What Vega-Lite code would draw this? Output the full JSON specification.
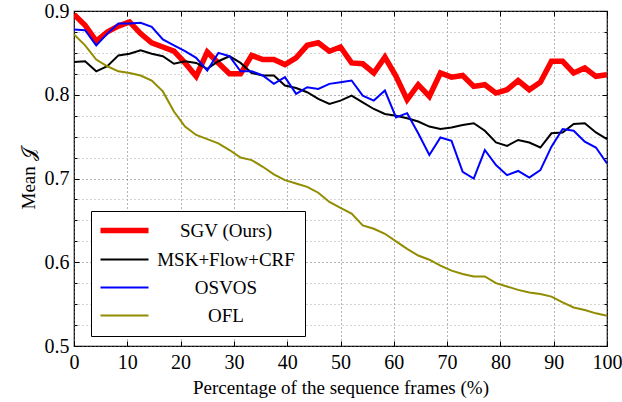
{
  "$schema": "https://vega.github.io/schema/vega-lite/v6.json",
  "width": 533,
  "height": 335,
  "autosize": {"type": "none"},
  "padding": {"left": 74, "top": 11, "right": 15, "bottom": 56},
  "background": "white",
  "config": {
    "font": "Liberation Serif",
    "view": {"stroke": "black", "strokeWidth": 1.2},
    "axis": {"labelFont": "Liberation Serif", "titleFont": "Liberation Serif", "labelFontSize": 20, "titleFontSize": 19, "titleFontWeight": "normal", "labelColor": "black", "titleColor": "black", "domainColor": "black", "tickColor": "black"},
    "legend": {"labelFont": "Liberation Serif", "labelFontSize": 19, "labelColor": "black"}
  },
  "data": {"values": [
    {"pct":0,"J":0.896,"method":"SGV (Ours)"},{"pct":2.08,"J":0.883,"method":"SGV (Ours)"},{"pct":4.17,"J":0.864,"method":"SGV (Ours)"},{"pct":6.25,"J":0.875,"method":"SGV (Ours)"},{"pct":8.33,"J":0.882,"method":"SGV (Ours)"},{"pct":10.42,"J":0.887,"method":"SGV (Ours)"},{"pct":12.5,"J":0.873,"method":"SGV (Ours)"},{"pct":14.58,"J":0.862,"method":"SGV (Ours)"},{"pct":16.67,"J":0.857,"method":"SGV (Ours)"},{"pct":18.75,"J":0.852,"method":"SGV (Ours)"},{"pct":20.83,"J":0.838,"method":"SGV (Ours)"},{"pct":22.92,"J":0.822,"method":"SGV (Ours)"},{"pct":25,"J":0.851,"method":"SGV (Ours)"},{"pct":27.08,"J":0.838,"method":"SGV (Ours)"},{"pct":29.17,"J":0.825,"method":"SGV (Ours)"},{"pct":31.25,"J":0.825,"method":"SGV (Ours)"},{"pct":33.33,"J":0.847,"method":"SGV (Ours)"},{"pct":35.42,"J":0.842,"method":"SGV (Ours)"},{"pct":37.5,"J":0.842,"method":"SGV (Ours)"},{"pct":39.58,"J":0.836,"method":"SGV (Ours)"},{"pct":41.67,"J":0.844,"method":"SGV (Ours)"},{"pct":43.75,"J":0.859,"method":"SGV (Ours)"},{"pct":45.83,"J":0.862,"method":"SGV (Ours)"},{"pct":47.92,"J":0.852,"method":"SGV (Ours)"},{"pct":50,"J":0.857,"method":"SGV (Ours)"},{"pct":52.08,"J":0.838,"method":"SGV (Ours)"},{"pct":54.17,"J":0.837,"method":"SGV (Ours)"},{"pct":56.25,"J":0.826,"method":"SGV (Ours)"},{"pct":58.33,"J":0.845,"method":"SGV (Ours)"},{"pct":60.42,"J":0.822,"method":"SGV (Ours)"},{"pct":62.5,"J":0.794,"method":"SGV (Ours)"},{"pct":64.58,"J":0.812,"method":"SGV (Ours)"},{"pct":66.67,"J":0.798,"method":"SGV (Ours)"},{"pct":68.75,"J":0.826,"method":"SGV (Ours)"},{"pct":70.83,"J":0.821,"method":"SGV (Ours)"},{"pct":72.92,"J":0.823,"method":"SGV (Ours)"},{"pct":75,"J":0.81,"method":"SGV (Ours)"},{"pct":77.08,"J":0.812,"method":"SGV (Ours)"},{"pct":79.17,"J":0.802,"method":"SGV (Ours)"},{"pct":81.25,"J":0.806,"method":"SGV (Ours)"},{"pct":83.33,"J":0.817,"method":"SGV (Ours)"},{"pct":85.42,"J":0.806,"method":"SGV (Ours)"},{"pct":87.5,"J":0.815,"method":"SGV (Ours)"},{"pct":89.58,"J":0.84,"method":"SGV (Ours)"},{"pct":91.67,"J":0.84,"method":"SGV (Ours)"},{"pct":93.75,"J":0.826,"method":"SGV (Ours)"},{"pct":95.83,"J":0.832,"method":"SGV (Ours)"},{"pct":97.92,"J":0.822,"method":"SGV (Ours)"},{"pct":100,"J":0.824,"method":"SGV (Ours)"},
    {"pct":0,"J":0.839,"method":"MSK+Flow+CRF"},{"pct":2.08,"J":0.84,"method":"MSK+Flow+CRF"},{"pct":4.17,"J":0.828,"method":"MSK+Flow+CRF"},{"pct":6.25,"J":0.834,"method":"MSK+Flow+CRF"},{"pct":8.33,"J":0.847,"method":"MSK+Flow+CRF"},{"pct":10.42,"J":0.849,"method":"MSK+Flow+CRF"},{"pct":12.5,"J":0.853,"method":"MSK+Flow+CRF"},{"pct":14.58,"J":0.849,"method":"MSK+Flow+CRF"},{"pct":16.67,"J":0.846,"method":"MSK+Flow+CRF"},{"pct":18.75,"J":0.837,"method":"MSK+Flow+CRF"},{"pct":20.83,"J":0.84,"method":"MSK+Flow+CRF"},{"pct":22.92,"J":0.838,"method":"MSK+Flow+CRF"},{"pct":25,"J":0.831,"method":"MSK+Flow+CRF"},{"pct":27.08,"J":0.84,"method":"MSK+Flow+CRF"},{"pct":29.17,"J":0.846,"method":"MSK+Flow+CRF"},{"pct":31.25,"J":0.838,"method":"MSK+Flow+CRF"},{"pct":33.33,"J":0.826,"method":"MSK+Flow+CRF"},{"pct":35.42,"J":0.823,"method":"MSK+Flow+CRF"},{"pct":37.5,"J":0.823,"method":"MSK+Flow+CRF"},{"pct":39.58,"J":0.811,"method":"MSK+Flow+CRF"},{"pct":41.67,"J":0.808,"method":"MSK+Flow+CRF"},{"pct":43.75,"J":0.803,"method":"MSK+Flow+CRF"},{"pct":45.83,"J":0.795,"method":"MSK+Flow+CRF"},{"pct":47.92,"J":0.789,"method":"MSK+Flow+CRF"},{"pct":50,"J":0.793,"method":"MSK+Flow+CRF"},{"pct":52.08,"J":0.799,"method":"MSK+Flow+CRF"},{"pct":54.17,"J":0.791,"method":"MSK+Flow+CRF"},{"pct":56.25,"J":0.783,"method":"MSK+Flow+CRF"},{"pct":58.33,"J":0.777,"method":"MSK+Flow+CRF"},{"pct":60.42,"J":0.775,"method":"MSK+Flow+CRF"},{"pct":62.5,"J":0.772,"method":"MSK+Flow+CRF"},{"pct":64.58,"J":0.768,"method":"MSK+Flow+CRF"},{"pct":66.67,"J":0.762,"method":"MSK+Flow+CRF"},{"pct":68.75,"J":0.759,"method":"MSK+Flow+CRF"},{"pct":70.83,"J":0.761,"method":"MSK+Flow+CRF"},{"pct":72.92,"J":0.764,"method":"MSK+Flow+CRF"},{"pct":75,"J":0.766,"method":"MSK+Flow+CRF"},{"pct":77.08,"J":0.757,"method":"MSK+Flow+CRF"},{"pct":79.17,"J":0.743,"method":"MSK+Flow+CRF"},{"pct":81.25,"J":0.739,"method":"MSK+Flow+CRF"},{"pct":83.33,"J":0.746,"method":"MSK+Flow+CRF"},{"pct":85.42,"J":0.743,"method":"MSK+Flow+CRF"},{"pct":87.5,"J":0.737,"method":"MSK+Flow+CRF"},{"pct":89.58,"J":0.754,"method":"MSK+Flow+CRF"},{"pct":91.67,"J":0.755,"method":"MSK+Flow+CRF"},{"pct":93.75,"J":0.765,"method":"MSK+Flow+CRF"},{"pct":95.83,"J":0.766,"method":"MSK+Flow+CRF"},{"pct":97.92,"J":0.755,"method":"MSK+Flow+CRF"},{"pct":100,"J":0.747,"method":"MSK+Flow+CRF"},
    {"pct":0,"J":0.878,"method":"OSVOS"},{"pct":2.08,"J":0.877,"method":"OSVOS"},{"pct":4.17,"J":0.859,"method":"OSVOS"},{"pct":6.25,"J":0.873,"method":"OSVOS"},{"pct":8.33,"J":0.885,"method":"OSVOS"},{"pct":10.42,"J":0.885,"method":"OSVOS"},{"pct":12.5,"J":0.886,"method":"OSVOS"},{"pct":14.58,"J":0.881,"method":"OSVOS"},{"pct":16.67,"J":0.866,"method":"OSVOS"},{"pct":18.75,"J":0.859,"method":"OSVOS"},{"pct":20.83,"J":0.852,"method":"OSVOS"},{"pct":22.92,"J":0.844,"method":"OSVOS"},{"pct":25,"J":0.829,"method":"OSVOS"},{"pct":27.08,"J":0.85,"method":"OSVOS"},{"pct":29.17,"J":0.846,"method":"OSVOS"},{"pct":31.25,"J":0.828,"method":"OSVOS"},{"pct":33.33,"J":0.828,"method":"OSVOS"},{"pct":35.42,"J":0.823,"method":"OSVOS"},{"pct":37.5,"J":0.813,"method":"OSVOS"},{"pct":39.58,"J":0.821,"method":"OSVOS"},{"pct":41.67,"J":0.801,"method":"OSVOS"},{"pct":43.75,"J":0.809,"method":"OSVOS"},{"pct":45.83,"J":0.807,"method":"OSVOS"},{"pct":47.92,"J":0.813,"method":"OSVOS"},{"pct":50,"J":0.815,"method":"OSVOS"},{"pct":52.08,"J":0.817,"method":"OSVOS"},{"pct":54.17,"J":0.799,"method":"OSVOS"},{"pct":56.25,"J":0.793,"method":"OSVOS"},{"pct":58.33,"J":0.805,"method":"OSVOS"},{"pct":60.42,"J":0.773,"method":"OSVOS"},{"pct":62.5,"J":0.778,"method":"OSVOS"},{"pct":64.58,"J":0.754,"method":"OSVOS"},{"pct":66.67,"J":0.728,"method":"OSVOS"},{"pct":68.75,"J":0.749,"method":"OSVOS"},{"pct":70.83,"J":0.745,"method":"OSVOS"},{"pct":72.92,"J":0.708,"method":"OSVOS"},{"pct":75,"J":0.7,"method":"OSVOS"},{"pct":77.08,"J":0.734,"method":"OSVOS"},{"pct":79.17,"J":0.716,"method":"OSVOS"},{"pct":81.25,"J":0.704,"method":"OSVOS"},{"pct":83.33,"J":0.709,"method":"OSVOS"},{"pct":85.42,"J":0.701,"method":"OSVOS"},{"pct":87.5,"J":0.71,"method":"OSVOS"},{"pct":89.58,"J":0.738,"method":"OSVOS"},{"pct":91.67,"J":0.759,"method":"OSVOS"},{"pct":93.75,"J":0.757,"method":"OSVOS"},{"pct":95.83,"J":0.744,"method":"OSVOS"},{"pct":97.92,"J":0.737,"method":"OSVOS"},{"pct":100,"J":0.718,"method":"OSVOS"},
    {"pct":0,"J":0.872,"method":"OFL"},{"pct":2.08,"J":0.859,"method":"OFL"},{"pct":4.17,"J":0.842,"method":"OFL"},{"pct":6.25,"J":0.834,"method":"OFL"},{"pct":8.33,"J":0.828,"method":"OFL"},{"pct":10.42,"J":0.826,"method":"OFL"},{"pct":12.5,"J":0.823,"method":"OFL"},{"pct":14.58,"J":0.817,"method":"OFL"},{"pct":16.67,"J":0.804,"method":"OFL"},{"pct":18.75,"J":0.78,"method":"OFL"},{"pct":20.83,"J":0.762,"method":"OFL"},{"pct":22.92,"J":0.752,"method":"OFL"},{"pct":25,"J":0.747,"method":"OFL"},{"pct":27.08,"J":0.742,"method":"OFL"},{"pct":29.17,"J":0.734,"method":"OFL"},{"pct":31.25,"J":0.725,"method":"OFL"},{"pct":33.33,"J":0.722,"method":"OFL"},{"pct":35.42,"J":0.714,"method":"OFL"},{"pct":37.5,"J":0.705,"method":"OFL"},{"pct":39.58,"J":0.698,"method":"OFL"},{"pct":41.67,"J":0.694,"method":"OFL"},{"pct":43.75,"J":0.69,"method":"OFL"},{"pct":45.83,"J":0.683,"method":"OFL"},{"pct":47.92,"J":0.672,"method":"OFL"},{"pct":50,"J":0.665,"method":"OFL"},{"pct":52.08,"J":0.658,"method":"OFL"},{"pct":54.17,"J":0.644,"method":"OFL"},{"pct":56.25,"J":0.64,"method":"OFL"},{"pct":58.33,"J":0.634,"method":"OFL"},{"pct":60.42,"J":0.625,"method":"OFL"},{"pct":62.5,"J":0.616,"method":"OFL"},{"pct":64.58,"J":0.608,"method":"OFL"},{"pct":66.67,"J":0.603,"method":"OFL"},{"pct":68.75,"J":0.596,"method":"OFL"},{"pct":70.83,"J":0.59,"method":"OFL"},{"pct":72.92,"J":0.586,"method":"OFL"},{"pct":75,"J":0.583,"method":"OFL"},{"pct":77.08,"J":0.583,"method":"OFL"},{"pct":79.17,"J":0.575,"method":"OFL"},{"pct":81.25,"J":0.571,"method":"OFL"},{"pct":83.33,"J":0.567,"method":"OFL"},{"pct":85.42,"J":0.564,"method":"OFL"},{"pct":87.5,"J":0.562,"method":"OFL"},{"pct":89.58,"J":0.559,"method":"OFL"},{"pct":91.67,"J":0.552,"method":"OFL"},{"pct":93.75,"J":0.546,"method":"OFL"},{"pct":95.83,"J":0.543,"method":"OFL"},{"pct":97.92,"J":0.539,"method":"OFL"},{"pct":100,"J":0.536,"method":"OFL"}
  ]},
  "layer": [
    {
      "mark": {"type": "line", "clip": true},
      "encoding": {
        "x": {"field": "pct", "type": "quantitative", "scale": {"domain": [0, 100], "nice": false, "zero": false},
          "axis": {"title": "Percentage of the sequence frames (%)", "values": [0,10,20,30,40,50,60,70,80,90,100], "format": "d", "tickSize": -5, "labelPadding": 11, "titlePadding": 6, "grid": true, "gridColor": "#666", "gridDash": [1,3], "domain": false, "labelFlush": false}},
        "y": {"field": "J", "type": "quantitative", "scale": {"domain": [0.5, 0.9], "nice": false, "zero": false},
          "axis": {"title": "Mean 𝒥", "values": [0.5,0.525,0.55,0.575,0.6,0.625,0.65,0.675,0.7,0.725,0.75,0.775,0.8,0.825,0.85,0.875,0.9],
            "labelExpr": "abs(datum.value*10 - round(datum.value*10)) < 0.001 ? format(datum.value, '.1f') : ''",
            "tickSize": {"condition": {"test": "abs(datum.value*10 - round(datum.value*10)) < 0.001", "value": -5}, "value": -3},
            "gridColor": {"condition": {"test": "abs(datum.value*10 - round(datum.value*10)) < 0.001", "value": "#666"}, "value": "#aaa"},
            "gridDash": [1,3], "grid": true, "domain": false, "labelPadding": 10, "titlePadding": 6, "labelFlush": false}},
        "color": {"field": "method", "type": "nominal", "sort": ["SGV (Ours)", "MSK+Flow+CRF", "OSVOS", "OFL"],
          "scale": {"domain": ["SGV (Ours)", "MSK+Flow+CRF", "OSVOS", "OFL"], "range": ["#ff0000", "#000000", "#0000ff", "#918c00"]},
          "legend": {"title": null, "orient": "none", "legendX": 17, "legendY": 200, "symbolType": "M-1,0H3.8", "symbolSize": 400, "labelAlign": "center", "labelOffset": 106, "rowPadding": 8, "padding": 10, "fillColor": "white", "strokeColor": "black", "symbolStrokeWidth": 2,
            "encode": {"symbols": {"update": {"strokeWidth": {"signal": "datum.value === 'SGV (Ours)' ? 5.5 : 2"}}}}}},
        "strokeWidth": {"condition": {"test": "datum.method === 'SGV (Ours)'", "value": 5.5}, "value": 2}
      }
    },
    {
      "mark": {"type": "line", "opacity": 0},
      "encoding": {
        "x": {"field": "pct", "type": "quantitative", "axis": {"orient": "top", "title": null, "labels": false, "values": [0,10,20,30,40,50,60,70,80,90,100], "tickSize": -5, "grid": false, "domain": false}},
        "y": {"field": "J", "type": "quantitative", "axis": {"orient": "right", "title": null, "labels": false, "grid": false, "domain": false,
          "values": [0.5,0.525,0.55,0.575,0.6,0.625,0.65,0.675,0.7,0.725,0.75,0.775,0.8,0.825,0.85,0.875,0.9],
          "tickSize": {"condition": {"test": "abs(datum.value*10 - round(datum.value*10)) < 0.001", "value": -5}, "value": -3}}},
        "detail": {"field": "method", "type": "nominal"}
      }
    }
  ],
  "resolve": {"axis": {"x": "independent", "y": "independent"}}
}
